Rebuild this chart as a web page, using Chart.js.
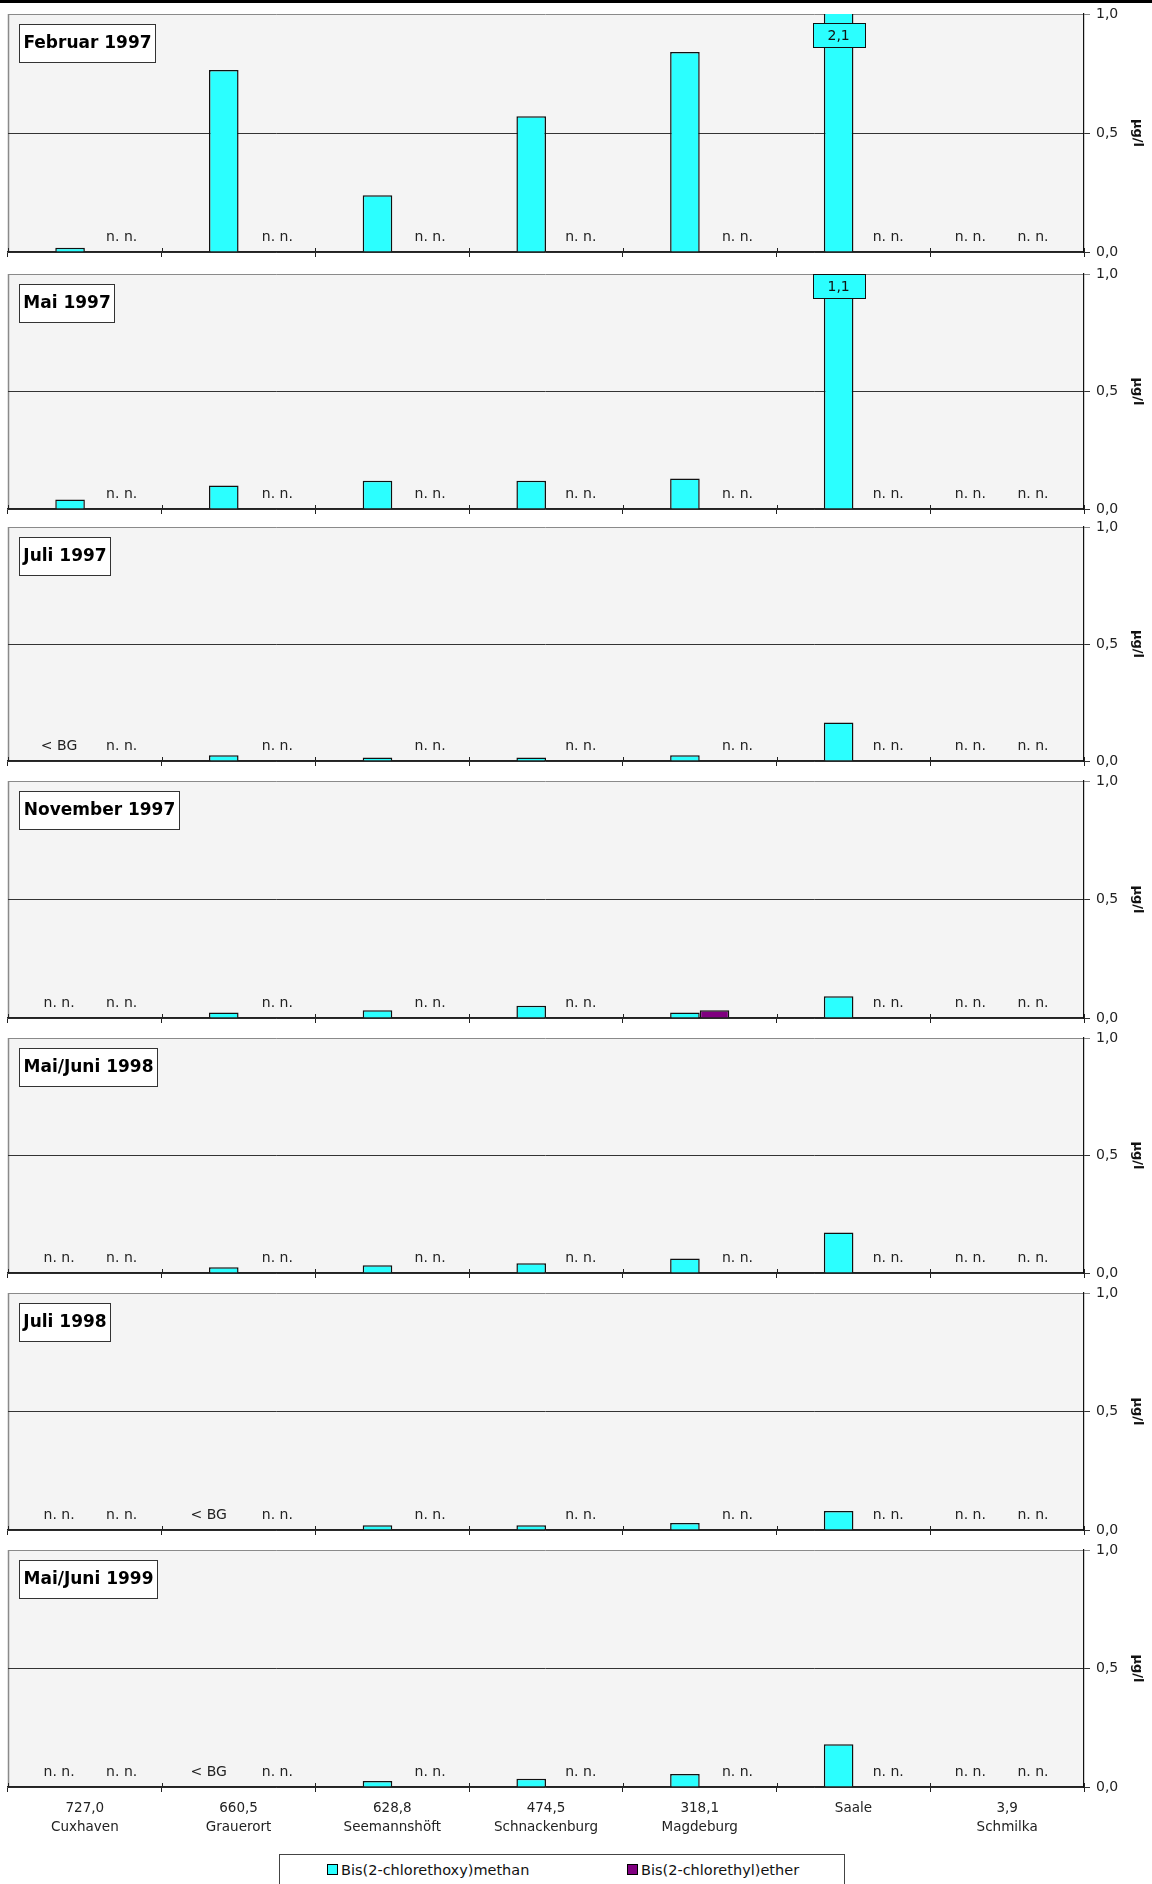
<!DOCTYPE html>
<html>
<head>
<meta charset="utf-8">
<script src="https://cdn.jsdelivr.net/npm/chart.js@4.4.1/dist/chart.umd.min.js"></script>
<style>
body { margin:0; background:#fff; width:1152px; height:1884px; position:relative; overflow:hidden; font-family:"DejaVu Sans", sans-serif; }
.leiste { position:absolute; left:0; top:0; width:1152px; height:3px; background:#000; }
.legende { position:absolute; left:279px; top:1854px; width:566px; height:44px; border:1px solid #444; background:#fff; box-sizing:border-box; }
.legende span { position:absolute; top:7px; font-size:14.5px; color:#111; white-space:nowrap; }
.legende i { display:inline-block; width:9px; height:9px; border:1px solid #000; margin-right:3px; }
</style>
</head>
<body>
<div class="leiste"></div>
<script>
const stationen = [['727,0','Cuxhaven'], ['660,5','Grauerort'], ['628,8','Seemannshöft'], ['474,5','Schnackenburg'], ['318,1','Magdeburg'], ['Saale'], ['3,9','Schmilka']]
const kampagnen = ['Februar 1997', 'Mai 1997', 'Juli 1997', 'November 1997', 'Mai/Juni 1998', 'Juli 1998', 'Mai/Juni 1999']
const stoffe = ['Bis(2-chlorethoxy)methan', 'Bis(2-chlorethyl)ether']
const yTicks = [0, 0.5, 1]

// Werte in µg/l; 'n. n.' = nicht nachgewiesen, '< BG' = unter Bestimmungsgrenze
const methanFeb97 = [0.018, 0.765, 0.238, 0.57, 0.84, 2.1, 'n. n.']
const etherFeb97 = ['n. n.', 'n. n.', 'n. n.', 'n. n.', 'n. n.', 'n. n.', 'n. n.']
const methanMai97 = [0.04, 0.10, 0.12, 0.12, 0.13, 1.1, 'n. n.']
const etherMai97 = ['n. n.', 'n. n.', 'n. n.', 'n. n.', 'n. n.', 'n. n.', 'n. n.']
const methanJul97 = ['< BG', 0.025, 0.015, 0.015, 0.025, 0.165, 'n. n.']
const etherJul97 = ['n. n.', 'n. n.', 'n. n.', 'n. n.', 'n. n.', 'n. n.', 'n. n.']
const methanNov97 = ['n. n.', 0.023, 0.033, 0.052, 0.023, 0.092, 'n. n.']
const etherNov97 = ['n. n.', 'n. n.', 'n. n.', 'n. n.', 0.033, 'n. n.', 'n. n.']
const methanJun98 = ['n. n.', 0.024, 0.033, 0.042, 0.062, 0.172, 'n. n.']
const etherJun98 = ['n. n.', 'n. n.', 'n. n.', 'n. n.', 'n. n.', 'n. n.', 'n. n.']
const methanJul98 = ['n. n.', '< BG', 0.02, 0.02, 0.03, 0.08, 'n. n.']
const etherJul98 = ['n. n.', 'n. n.', 'n. n.', 'n. n.', 'n. n.', 'n. n.', 'n. n.']
const methanJun99 = ['n. n.', '< BG', 0.025, 0.035, 0.055, 0.18, 'n. n.']
const etherJun99 = ['n. n.', 'n. n.', 'n. n.', 'n. n.', 'n. n.', 'n. n.', 'n. n.']

const methan = [methanFeb97, methanMai97, methanJul97, methanNov97, methanJun98, methanJul98, methanJun99]
const ether = [etherFeb97, etherMai97, etherJul97, etherNov97, etherJun98, etherJul98, etherJun99]

// Layout
const farben = ['#2bffff', '#800080']
const oben = [14, 274, 527, 781, 1038, 1293, 1550]
const nullLinie = [252, 509, 761, 1018, 1273, 1530, 1787]
const wertKastenDy = [9, 0, 0, 0, 0, 0, 0]
const versatz = [[-11, -15, -12, -12, -12, -12, -22], [22, 24, 23, 20, 23, 20, 11]]
const padTop = 18

Chart.defaults.font.family = '"DejaVu Sans", sans-serif'

const komma = v => v.toFixed(1).replace('.', ',')
const werte = a => a.map(v => typeof v == 'number' ? v : null)

const tafel = {
	id: 'tafel',
	beforeDraw(c) {
		const {ctx, chartArea: a} = c
		ctx.save()
		ctx.fillStyle = '#f4f4f4'
		ctx.fillRect(a.left, a.top, a.right - a.left, a.bottom - a.top)
		ctx.strokeStyle = '#8a8a8a'
		ctx.lineWidth = 1.5
		ctx.beginPath(); ctx.moveTo(a.left + 0.5, a.top); ctx.lineTo(a.left + 0.5, a.bottom); ctx.stroke()
		ctx.restore()
	},
	afterDatasetsDraw(c, args, opt) {
		const {ctx, chartArea: a} = c
		const yMax = c.scales.y.max
		ctx.save()
		ctx.textAlign = 'center'
		ctx.textBaseline = 'middle'
		c.data.datasets.forEach((ds, d) => {
			const meta = c.getDatasetMeta(d)
			ds.roh.forEach((v, i) => {
				const bar = meta.data[i]
				if (typeof v == 'string') {
					ctx.font = '14px "DejaVu Sans"'
					ctx.fillStyle = '#222'
					ctx.fillText(v, bar.x + versatz[d][i], a.bottom - 15)
				} else if (v > yMax) {
					// Balken über der Skala: Wert in Kasten anschreiben
					const w = 52, h = 24, x0 = Math.round(bar.x - w / 2), y0 = a.top + opt.kastenDy
					ctx.fillStyle = ds.backgroundColor
					ctx.fillRect(x0, y0, w, h)
					ctx.strokeStyle = '#111'
					ctx.lineWidth = 1
					ctx.strokeRect(x0 + 0.5, y0 + 0.5, w, h)
					ctx.font = '14px "DejaVu Sans"'
					ctx.fillStyle = '#111'
					ctx.fillText(komma(v), bar.x, y0 + h / 2 + 1)
				}
			})
		})
		ctx.restore()
	},
	afterDraw(c, args, opt) {
		const {ctx, chartArea: a} = c
		const x = c.scales.x
		ctx.save()
		// Teilstriche nach innen
		ctx.strokeStyle = '#222'
		ctx.lineWidth = 1
		ctx.beginPath()
		for (let i = 0; i <= stationen.length; i++) {
			const px = Math.round(x.getPixelForValue(i - 0.5)) + 0.5
			ctx.moveTo(px, a.bottom - 4); ctx.lineTo(px, a.bottom)
		}
		ctx.stroke()
		// Kampagne oben links
		ctx.font = 'bold 17px "DejaVu Sans"'
		const w = Math.round(ctx.measureText(opt.titel).width + 8), h = 38
		const x0 = a.left + 11, y0 = a.top + 10
		ctx.fillStyle = '#fff'
		ctx.fillRect(x0, y0, w, h)
		ctx.strokeStyle = '#333'
		ctx.strokeRect(x0 + 0.5, y0 + 0.5, w, h)
		ctx.fillStyle = '#000'
		ctx.textAlign = 'center'
		ctx.textBaseline = 'middle'
		ctx.fillText(opt.titel, x0 + w / 2 + 0.5, y0 + h / 2 + 1)
		ctx.restore()
	}
}

kampagnen.forEach((titel, k) => {
	const letzte = k == kampagnen.length - 1
	const plotH = nullLinie[k] - oben[k]
	const xH = letzte ? 60 : 18
	const cv = document.createElement('canvas')
	cv.width = 1152
	cv.height = padTop + plotH + xH
	cv.style.cssText = `position:absolute; left:0; top:${oben[k] - padTop}px;`
	document.body.appendChild(cv)

	new Chart(cv, {
		type: 'bar',
		data: {
			labels: stationen,
			datasets: [methan[k], ether[k]].map((a, d) => ({
				label: stoffe[d],
				data: werte(a),
				roh: a,
				backgroundColor: farben[d],
				borderColor: '#111',
				borderWidth: 1.5,
				categoryPercentage: 0.385,
				barPercentage: 1,
			}))
		},
		plugins: [tafel],
		options: {
			responsive: false,
			animation: false,
			events: [],
			layout: { padding: { left: 8, top: padTop, right: 0, bottom: 0 } },
			plugins: {
				legend: { display: false },
				tooltip: { enabled: false },
				tafel: { titel, kastenDy: wertKastenDy[k] },
			},
			scales: {
				x: {
					grid: { offset: true, drawOnChartArea: false, drawTicks: true, tickLength: 5, color: '#222', lineWidth: 1 },
					border: { display: true, color: '#222', width: 1.5 },
					ticks: { display: letzte, color: '#222', font: { size: 13.5, lineHeight: 1.4 }, padding: 7, maxRotation: 0, autoSkip: false },
					afterFit: s => { s.height = xH },
				},
				y: {
					position: 'right',
					min: 0,
					max: 1,
					afterBuildTicks: s => { s.ticks = yTicks.map(v => ({ value: v })) },
					grid: { color: c => c.tick && c.tick.value == 1 ? '#8a8a8a' : '#333', lineWidth: 1, tickLength: 6 },
					border: { display: true, color: '#111', width: 1.2 },
					ticks: { color: '#222', font: { size: 14 }, padding: 6, callback: v => komma(v) },
					title: { display: true, text: 'µg/l', color: '#111', font: { size: 13, weight: 'bold' }, padding: { top: 7, bottom: 0 } },
					afterFit: s => { s.width = 68 },
				}
			}
		}
	})
})

// Legende
;(a => {
	a.className = 'legende'
	stoffe.forEach((s, d) => {
		const sp = document.createElement('span')
		sp.style.left = (d ? 347 : 47) + 'px'
		sp.innerHTML = `<i style="background:${farben[d]}"></i>${s}`
		a.appendChild(sp)
	})
	document.body.appendChild(a)
})(document.createElement('div'))
</script>
</body>
</html>
